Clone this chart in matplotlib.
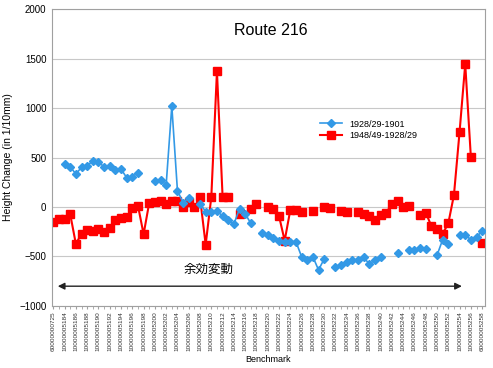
import numpy as np
import matplotlib.pyplot as plt

plt.rcParams['font.family'] = ['Liberation Sans', 'Noto Sans CJK JP']

nan = np.nan

# benchmark names (77 benchmarks, only every other one labelled)
benchmarks = (["60000000725"]
              + ["1000000%d" % n for n in range(5183, 5258)]
              + ["60000005258"])

# 1928/29-1901 (1/10 mm)
old_change = [nan, nan, 434, 407, 333, 401, 417, 465, 451, 407,
              417, 374, 384, 296, 306, 347, nan, nan, 265, 273,
              225, 1020, 165, 45, 88, nan, 35, -47, -47, -40,
              -91, -131, -172, -20, -68, -165, nan, -260, -278, -316,
              -340, -350, -350, -350, -502, -535, -502, -636, -525, nan,
              -609, -586, -552, -535, -535, -508, -576, -535, -505, nan,
              nan, -468, nan, -438, -434, -417, -427, nan, -488, -330,
              -370, nan, -286, -283, -330, -306, -239]

# 1948/49-1928/29 (1/10 mm)
new_change = [-155, -124, -124, -74, -374, -268, -232, -240, -226, -250,
              -217, -133, -113, -102, -13, 15, -275, 43, 52, 64,
              32, 64, 62, -5, 50, -5, 96, -380, 100, 1370,
              104, 104, nan, -70, nan, -23, 30, nan, -3, -23,
              -91, -340, -30, -30, -47, nan, -40, nan, -3, -13,
              nan, -37, -47, nan, -54, -71, -91, -131, -81, -60,
              33, 64, 3, 13, nan, -77, -57, -192, -220, -270,
              -165, 121, 761, 1444, 502, nan, -360]

x = np.arange(len(benchmarks))

fig = plt.figure(figsize=(4.93, 3.68), dpi=100)
ax = fig.add_axes([0.1055, 0.1685, 0.878, 0.807])

ax.plot(x, old_change, color='#3399e6', lw=1.2, marker='D', ms=3.8,
        label='1928/29-1901', zorder=3)
ax.plot(x, new_change, color='#ff0000', lw=1.5, marker='s', ms=6,
        label='1948/49-1928/29', zorder=2)

ax.set_xlim(-0.23, 76.48)
ax.set_ylim(-1000, 2000)
ax.set_yticks(np.arange(-1000, 2001, 500))
ax.grid(axis='y', color='#c8c8c8', lw=0.8)
ax.set_axisbelow(True)
for s in ax.spines.values():
    s.set_color('#a0a0a0')

ax.set_xticks(x[::2])
ax.set_xticklabels(benchmarks[::2], rotation=90, fontsize=4.6, color='#333333')
ax.set_xticks(x, minor=True)
ax.tick_params(axis='x', which='both', length=2, color='#a0a0a0', pad=2)
ax.tick_params(axis='y', length=0, labelsize=7, pad=4)

ax.set_xlabel('Benchmark', fontsize=6.5, labelpad=3)
ax.set_ylabel('Height Change (in 1/10mm)', fontsize=7.5)
ax.yaxis.set_label_coords(-0.09, 0.5)

ax.text(0.505, 0.926, 'Route 216', transform=ax.transAxes, ha='center',
        va='center', fontsize=11.5)

ax.legend(loc='upper left', bbox_to_anchor=(0.6, 0.655), frameon=False,
          fontsize=6.5, handlelength=2.5, labelspacing=0.3)

ax.annotate('', xy=(72.9, -800), xytext=(0.3, -800),
            arrowprops=dict(arrowstyle='<|-|>', color='#222222', lw=1,
                            mutation_scale=10))
ax.text(27.5, -640, '余効変動', ha='center', va='center', fontsize=9)

fig.savefig('out.png', dpi=100)
